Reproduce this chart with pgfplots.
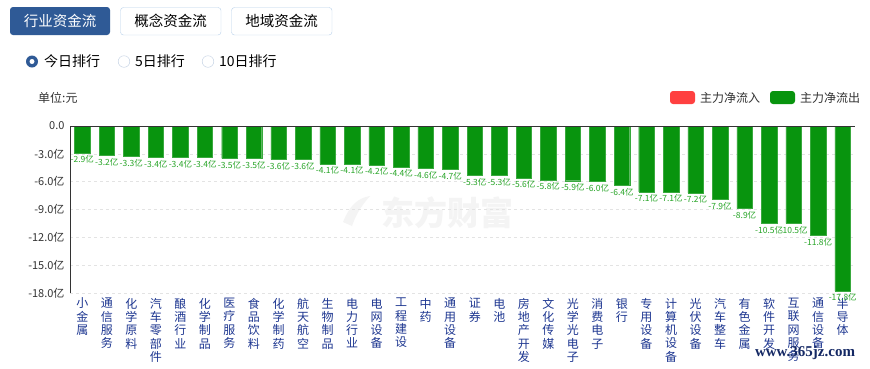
\documentclass[border=0pt]{standalone}
\usepackage{pgfplots}
\pgfplotsset{compat=1.18}
\usepackage{fontspec}
\setmainfont{Noto Sans CJK SC}
\newfontfamily\wmfont{Liberation Serif}
\definecolor{tabblue}{RGB}{47,90,150}
\definecolor{tabborder}{RGB}{184,208,234}
\definecolor{radiogray}{RGB}{190,205,225}
\definecolor{bargreen}{RGB}{8,148,14}
\definecolor{lblgreen}{RGB}{40,165,40}
\definecolor{legred}{RGB}{255,64,64}
\definecolor{catblue}{RGB}{30,55,145}
\definecolor{txtgray}{RGB}{51,51,51}
\definecolor{wmblue}{RGB}{20,40,100}
\begin{document}
\begin{tikzpicture}
\useasboundingbox (0,0) rectangle (870pt,-368pt);
\fill[white] (0,0) rectangle (870pt,-368pt);
\begin{scope}[x=1pt,y=-1pt]
% tabs
\fill[tabblue,rounded corners=3pt] (10,7) rectangle (110,35);
\node[white,font=\fontsize{14.5}{14.5}\selectfont] at (60,21) {行业资金流};
\draw[tabborder,rounded corners=3pt] (120.5,7.5) rectangle (221,35);
\node[black,font=\fontsize{14.5}{14.5}\selectfont] at (170.5,21) {概念资金流};
\draw[tabborder,rounded corners=3pt] (231.5,7.5) rectangle (332,35);
\node[black,font=\fontsize{14.5}{14.5}\selectfont] at (281.5,21) {地域资金流};
% radios
\fill[tabblue] (32,61.5) circle (6);
\fill[white] (32,61.5) circle (2.5);
\node[anchor=west,inner sep=0,font=\fontsize{14}{14}\selectfont,black] at (44,61.5) {今日排行};
\draw[radiogray] (124,61.5) circle (5.8);
\node[anchor=west,inner sep=0,font=\fontsize{14}{14}\selectfont,black] at (135,61.5) {5日排行};
\draw[radiogray] (208,61.5) circle (5.8);
\node[anchor=west,inner sep=0,font=\fontsize{14}{14}\selectfont,black] at (219,61.5) {10日排行};
% unit
\node[anchor=west,inner sep=0,font=\fontsize{12}{12}\selectfont,txtgray] at (38,97.5) {单位:元};
% legend
\fill[legred,rounded corners=3pt] (670,91) rectangle (695,104);
\node[anchor=west,inner sep=0,font=\fontsize{12}{12}\selectfont,txtgray] at (700,97.5) {主力净流入};
\fill[bargreen,rounded corners=3pt] (770,91) rectangle (795,104);
\node[anchor=west,inner sep=0,font=\fontsize{12}{12}\selectfont,txtgray] at (800,97.5) {主力净流出};
% watermark
\fill[gray!9] (343,222) .. controls (350,205) and (358,198) .. (370,196) .. controls (362,205) and (356,214) .. (352,226) -- cycle;
\node[gray!9,font=\fontsize{33}{33}\selectfont\bfseries] at (447,213) {东方财富};
\end{scope}
\begin{axis}[
  at={(70pt,-293pt)}, anchor=south west,
  scale only axis, width=785pt, height=167pt,
  xmin=-0.5, xmax=31.5, ymin=-18, ymax=0,
  ybar, bar width=15.5pt, bar shift=0pt,
  axis line style={draw=none},
  clip=false,
  ytick={0,-3,-6,-9,-12,-15,-18},
  yticklabels={0.0,-3.0亿,-6.0亿,-9.0亿,-12.0亿,-15.0亿,-18.0亿},
  xtick={0,...,31},
  xticklabels={{小\\金\\属},{通\\信\\服\\务},{化\\学\\原\\料},{汽\\车\\零\\部\\件},{酿\\酒\\行\\业},{化\\学\\制\\品},{医\\疗\\服\\务},{食\\品\\饮\\料},{化\\学\\制\\药},{航\\天\\航\\空},{生\\物\\制\\品},{电\\力\\行\\业},{电\\网\\设\\备},{工\\程\\建\\设},{中\\药},{通\\用\\设\\备},{证\\券},{电\\池},{房\\地\\产\\开\\发},{文\\化\\传\\媒},{光\\学\\光\\电\\子},{消\\费\\电\\子},{银\\行},{专\\用\\设\\备},{计\\算\\机\\设\\备},{光\\伏\\设\\备},{汽\\车\\整\\车},{有\\色\\金\\属},{软\\件\\开\\发},{互\\联\\网\\服\\务},{通\\信\\设\\备},{半\\导\\体}},
  major tick length=0pt,
  ymajorgrids, grid style={dashed,gray!22},
  yticklabel style={font=\fontsize{11}{11}\selectfont, color=txtgray, xshift=-2pt},
  xticklabel style={font=\fontsize{12}{13.3}\selectfont, color=catblue, align=center, anchor=north, yshift=-1.5pt},
  /pgf/number format/assume math mode=true,
  nodes near coords={\pgfmathprintnumber[fixed,fixed zerofill,precision=1]{\pgfplotspointmeta}亿},
  every node near coord/.append style={font=\fontsize{8.5}{9}\selectfont, color=lblgreen, inner sep=1pt, yshift=-1.5pt},
]
\addplot[fill=bargreen, draw=bargreen!80!white] coordinates {
(0,-2.9) (1,-3.2) (2,-3.3) (3,-3.4) (4,-3.4) (5,-3.4) (6,-3.5) (7,-3.5)
(8,-3.6) (9,-3.6) (10,-4.1) (11,-4.1) (12,-4.2) (13,-4.4) (14,-4.6) (15,-4.7)
(16,-5.3) (17,-5.3) (18,-5.6) (19,-5.8) (20,-5.9) (21,-6.0) (22,-6.4) (23,-7.1)
(24,-7.1) (25,-7.2) (26,-7.9) (27,-8.9) (28,-10.5) (29,-10.5) (30,-11.8) (31,-17.8)
};
\draw[txtgray] (rel axis cs:0,1) -- (rel axis cs:1,1);
\draw[txtgray] (rel axis cs:0,1) -- (rel axis cs:0,0);
\end{axis}
\node[wmblue,font=\wmfont\bfseries\fontsize{15}{15}\selectfont] at (805pt,-353pt) {www.365jz.com};
\end{tikzpicture}
\end{document}
